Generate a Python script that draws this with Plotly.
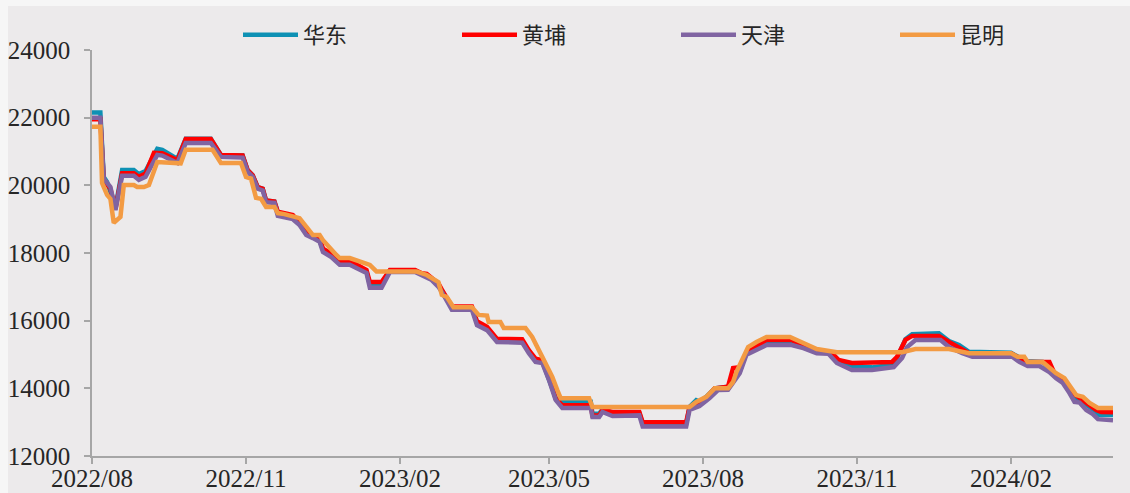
import plotly.graph_objects as go

# 华东
huadong_dates = [
    "2022-08-01", "2022-08-06", "2022-08-08", "2022-08-10", "2022-08-15", "2022-08-19", "2022-08-26",
    "2022-08-29", "2022-09-02", "2022-09-09", "2022-09-12", "2022-09-21", "2022-09-26", "2022-10-11",
    "2022-10-17", "2022-10-30", "2022-11-02", "2022-11-05", "2022-11-08", "2022-11-11", "2022-11-13",
    "2022-11-18", "2022-11-20", "2022-11-24", "2022-11-29", "2022-12-03", "2022-12-07", "2022-12-11",
    "2022-12-15", "2022-12-17", "2022-12-22", "2022-12-27", "2023-01-02", "2023-01-12", "2023-01-14",
    "2023-01-21", "2023-01-26", "2023-02-10", "2023-02-14", "2023-02-20", "2023-02-24", "2023-02-26",
    "2023-03-04", "2023-03-16", "2023-03-19", "2023-03-25", "2023-03-31", "2023-04-15", "2023-04-19",
    "2023-04-23", "2023-04-27", "2023-05-01", "2023-05-05", "2023-05-09", "2023-05-26", "2023-05-27",
    "2023-05-31", "2023-06-02", "2023-06-08", "2023-06-24", "2023-06-26", "2023-07-22", "2023-07-24",
    "2023-07-28", "2023-07-30", "2023-08-03", "2023-08-08", "2023-08-16", "2023-08-20", "2023-08-23",
    "2023-08-27", "2023-09-02", "2023-09-08", "2023-09-23", "2023-09-30", "2023-10-06", "2023-10-17",
    "2023-10-21", "2023-10-29", "2023-11-10", "2023-11-22", "2023-11-25", "2023-11-30", "2023-12-04",
    "2023-12-20", "2023-12-26", "2024-01-01", "2024-01-07", "2024-02-01", "2024-02-05", "2024-02-10",
    "2024-02-20", "2024-02-24", "2024-02-28", "2024-03-03", "2024-03-07", "2024-03-11", "2024-03-17",
    "2024-03-23", "2024-03-24", "2024-04-02",
]
huadong_vals = [
    22150, 22150, 20250, 20100, 19350, 20450, 20450,
    20330, 20420, 21080, 21050, 20780, 21380, 21380,
    20900, 20880, 20450, 20300, 19950, 19900, 19550,
    19520, 19200, 19150, 19100, 18880, 18580, 18480,
    18380, 18080, 17930, 17700, 17700, 17450, 17060,
    17060, 17480, 17480, 17380, 17230, 17030, 16900,
    16380, 16380, 15930, 15780, 15430, 15400, 15100,
    14850, 14800, 14300, 13720, 13600, 13600, 13250,
    13250, 13380, 13280, 13280, 12950, 12950, 13450,
    13650, 13600, 13750, 14000, 14050, 14300, 14500,
    15050, 15200, 15400, 15400, 15300, 15150, 15050,
    14800, 14620, 14620, 14700, 14900, 15450, 15600,
    15630, 15400, 15280, 15080, 15050, 14950, 14800,
    14780, 14600, 14400, 14220, 13900, 13700, 13520,
    13300, 13220, 13210,
]

# 黄埔
huangpu_dates = [
    "2022-08-01", "2022-08-06", "2022-08-08", "2022-08-12", "2022-08-15", "2022-08-19", "2022-08-26",
    "2022-08-29", "2022-09-02", "2022-09-07", "2022-09-12", "2022-09-21", "2022-09-26", "2022-10-11",
    "2022-10-17", "2022-10-30", "2022-11-02", "2022-11-05", "2022-11-08", "2022-11-11", "2022-11-13",
    "2022-11-18", "2022-11-20", "2022-11-24", "2022-11-29", "2022-12-03", "2022-12-07", "2022-12-11",
    "2022-12-15", "2022-12-17", "2022-12-22", "2022-12-27", "2023-01-02", "2023-01-12", "2023-01-14",
    "2023-01-21", "2023-01-26", "2023-02-10", "2023-02-14", "2023-02-17", "2023-02-20", "2023-02-24",
    "2023-02-26", "2023-03-04", "2023-03-16", "2023-03-19", "2023-03-25", "2023-03-31", "2023-04-15",
    "2023-04-19", "2023-04-23", "2023-04-27", "2023-05-01", "2023-05-05", "2023-05-09", "2023-05-26",
    "2023-05-27", "2023-05-31", "2023-06-02", "2023-06-08", "2023-06-24", "2023-06-26", "2023-07-22",
    "2023-07-24", "2023-07-30", "2023-08-03", "2023-08-08", "2023-08-16", "2023-08-19", "2023-08-23",
    "2023-08-27", "2023-09-02", "2023-09-08", "2023-09-23", "2023-09-30", "2023-10-06", "2023-10-17",
    "2023-10-21", "2023-10-29", "2023-11-10", "2023-11-22", "2023-11-25", "2023-11-30", "2023-12-04",
    "2023-12-20", "2023-12-26", "2024-01-01", "2024-01-07", "2024-02-01", "2024-02-05", "2024-02-10",
    "2024-02-24", "2024-02-27", "2024-03-03", "2024-03-09", "2024-03-12", "2024-03-17", "2024-03-23",
    "2024-03-26", "2024-04-02",
]
huangpu_vals = [
    21950, 21950, 20160, 19900, 19300, 20360, 20360,
    20250, 20350, 20960, 20950, 20750, 21370, 21370,
    20900, 20880, 20450, 20300, 19950, 19900, 19550,
    19520, 19220, 19180, 19120, 18900, 18620, 18520,
    18420, 18130, 17980, 17770, 17770, 17500, 17140,
    17140, 17500, 17500, 17400, 17380, 17250, 17100,
    16920, 16420, 16420, 15980, 15820, 15460, 15450,
    15130, 14880, 14830, 14330, 13700, 13500, 13500,
    13200, 13200, 13360, 13300, 13300, 13000, 13000,
    13450, 13550, 13720, 14000, 14050, 14600, 14620,
    15050, 15250, 15430, 15430, 15280, 15130, 15040,
    14840, 14750, 14750, 14780, 14930, 15430, 15550,
    15550, 15370, 15220, 15040, 15040, 14930, 14780,
    14780, 14450, 14250, 13860, 13750, 13570, 13360,
    13300, 13290,
]

# 天津
tianjin_dates = [
    "2022-08-01", "2022-08-06", "2022-08-08", "2022-08-12", "2022-08-15", "2022-08-19", "2022-08-26",
    "2022-08-29", "2022-09-02", "2022-09-09", "2022-09-12", "2022-09-21", "2022-09-26", "2022-10-11",
    "2022-10-17", "2022-10-30", "2022-11-02", "2022-11-05", "2022-11-08", "2022-11-11", "2022-11-13",
    "2022-11-18", "2022-11-20", "2022-11-24", "2022-11-29", "2022-12-03", "2022-12-07", "2022-12-11",
    "2022-12-15", "2022-12-17", "2022-12-22", "2022-12-27", "2023-01-02", "2023-01-12", "2023-01-14",
    "2023-01-21", "2023-01-26", "2023-02-10", "2023-02-14", "2023-02-20", "2023-02-24", "2023-02-26",
    "2023-03-04", "2023-03-16", "2023-03-19", "2023-03-25", "2023-03-31", "2023-04-15", "2023-04-19",
    "2023-04-23", "2023-04-27", "2023-05-01", "2023-05-05", "2023-05-09", "2023-05-26", "2023-05-27",
    "2023-05-31", "2023-06-02", "2023-06-08", "2023-06-24", "2023-06-26", "2023-07-22", "2023-07-24",
    "2023-07-30", "2023-08-05", "2023-08-10", "2023-08-16", "2023-08-20", "2023-08-23", "2023-08-27",
    "2023-09-02", "2023-09-08", "2023-09-23", "2023-09-30", "2023-10-08", "2023-10-15", "2023-10-20",
    "2023-10-29", "2023-11-10", "2023-11-23", "2023-11-28", "2023-12-01", "2023-12-06", "2023-12-21",
    "2023-12-26", "2024-01-01", "2024-01-03", "2024-01-09", "2024-02-02", "2024-02-06", "2024-02-11",
    "2024-02-18", "2024-02-24", "2024-02-28", "2024-03-03", "2024-03-07", "2024-03-10", "2024-03-13",
    "2024-03-17", "2024-03-21", "2024-03-24", "2024-04-02",
]
tianjin_vals = [
    22000, 22000, 20200, 19950, 19270, 20280, 20280,
    20160, 20250, 20900, 20880, 20660, 21250, 21250,
    20840, 20820, 20400, 20250, 19900, 19850, 19500,
    19480, 19100, 19050, 19000, 18830, 18530, 18440,
    18330, 18030, 17880, 17650, 17650, 17410, 16970,
    16970, 17440, 17440, 17350, 17200, 17000, 16850,
    16320, 16320, 15870, 15720, 15370, 15350, 15040,
    14780, 14750, 14250, 13660, 13420, 13420, 13150,
    13150, 13300, 13180, 13200, 12870, 12870, 13360,
    13480, 13710, 13950, 13960, 14250, 14450, 14990,
    15130, 15280, 15280, 15190, 15040, 15020, 14750,
    14540, 14540, 14630, 14900, 15220, 15430, 15430,
    15220, 15070, 15040, 14930, 14930, 14780, 14660,
    14660, 14480, 14300, 14160, 13860, 13600, 13580,
    13360, 13240, 13090, 13060,
]

# 昆明
kunming_dates = [
    "2022-08-01", "2022-08-06", "2022-08-07", "2022-08-10", "2022-08-12", "2022-08-14", "2022-08-18",
    "2022-08-20", "2022-08-26", "2022-08-28", "2022-09-01", "2022-09-04", "2022-09-09", "2022-09-23",
    "2022-09-26", "2022-10-12", "2022-10-17", "2022-10-29", "2022-11-01", "2022-11-04", "2022-11-07",
    "2022-11-10", "2022-11-13", "2022-11-18", "2022-11-20", "2022-11-24", "2022-12-03", "2022-12-07",
    "2022-12-11", "2022-12-15", "2022-12-17", "2022-12-25", "2022-12-27", "2023-01-02", "2023-01-14",
    "2023-01-17", "2023-01-18", "2023-02-11", "2023-02-17", "2023-02-24", "2023-02-26", "2023-03-01",
    "2023-03-05", "2023-03-16", "2023-03-20", "2023-03-25", "2023-03-26", "2023-04-02", "2023-04-04",
    "2023-04-17", "2023-04-21", "2023-04-27", "2023-05-03", "2023-05-06", "2023-05-08", "2023-05-25",
    "2023-05-27", "2023-07-24", "2023-07-28", "2023-08-03", "2023-08-08", "2023-08-16", "2023-08-19",
    "2023-08-21", "2023-08-25", "2023-08-28", "2023-09-02", "2023-09-08", "2023-09-22", "2023-09-25",
    "2023-09-30", "2023-10-08", "2023-10-20", "2023-11-28", "2023-12-06", "2023-12-26", "2024-01-01",
    "2024-01-07", "2024-02-01", "2024-02-05", "2024-02-09", "2024-02-11", "2024-02-20", "2024-02-24",
    "2024-02-28", "2024-03-04", "2024-03-08", "2024-03-11", "2024-03-15", "2024-03-19", "2024-03-24",
    "2024-04-02",
]
kunming_vals = [
    21730, 21730, 20070, 19720, 19600, 18890, 19070,
    20010, 20010, 19950, 19950, 20010, 20690, 20650,
    21050, 21050, 20660, 20660, 20250, 20200, 19630,
    19600, 19360, 19360, 19180, 19150, 19030, 18770,
    18530, 18530, 18380, 17940, 17850, 17850, 17650,
    17500, 17450, 17450, 17350, 17140, 16760, 16700,
    16400, 16400, 16170, 16150, 15960, 15960, 15780,
    15780, 15520, 14930, 14340, 13950, 13710, 13710,
    13450, 13450, 13600, 13750, 14000, 14000, 14190,
    14480, 14930, 15220, 15370, 15520, 15520, 15460,
    15340, 15160, 15070, 15070, 15160, 15160, 15100,
    15040, 15040, 14930, 14930, 14780, 14780, 14600,
    14450, 14300, 14040, 13800, 13750, 13570, 13420,
    13420,
]

series_names = ["华东", "黄埔", "天津", "昆明"]
series_colors = ["#0E91B4", "#FF0000", "#8064A2", "#F39B43"]

tick_dates = ["2022-08-01", "2022-11-01", "2023-02-01", "2023-05-01",
              "2023-08-01", "2023-11-01", "2024-02-01"]
tick_labels = ["2022/08", "2022/11", "2023/02", "2023/05",
               "2023/08", "2023/11", "2024/02"]
y_ticks = [12000, 14000, 16000, 18000, 20000, 22000, 24000]

all_series = [
    (huadong_dates, huadong_vals),
    (huangpu_dates, huangpu_vals),
    (tianjin_dates, tianjin_vals),
    (kunming_dates, kunming_vals),
]

fig = go.Figure()
for (xs, ys), name, color in zip(all_series, series_names, series_colors):
    fig.add_trace(go.Scatter(
        x=xs, y=ys, name=name, mode="lines",
        line=dict(color=color, width=4.5),
    ))

axis_color = "#A6A6A6"
num_font = dict(family="Liberation Serif, Times New Roman, serif", size=25, color="#262626")

fig.update_layout(
    width=1130, height=493,
    margin=dict(l=92, r=17, t=50, b=37, autoexpand=False),
    paper_bgcolor="#F6F6F6",
    plot_bgcolor="rgba(0,0,0,0)",
    showlegend=True,
    legend=dict(
        orientation="h", x=0.143, y=1.037, xanchor="left", yanchor="middle",
        font=dict(family="Noto Sans CJK SC", size=22, color="#262626"),
        bgcolor="rgba(0,0,0,0)",
        entrywidth=149, entrywidthmode="pixels",
        itemwidth=55,
    ),
    xaxis=dict(
        type="date",
        range=["2022-08-01", "2024-04-02"],
        tickvals=tick_dates, ticktext=tick_labels,
        showgrid=False, zeroline=False, automargin=False,
        showline=True, linecolor=axis_color, linewidth=1.5,
        ticks="outside", ticklen=6, tickcolor=axis_color, tickwidth=1.5,
        tickfont=num_font,
        ticklabelstandoff=-7,
    ),
    yaxis=dict(
        range=[12000, 24000],
        tickvals=y_ticks, ticktext=[str(v) for v in y_ticks],
        showgrid=False, zeroline=False, automargin=False,
        showline=True, linecolor=axis_color, linewidth=1.5,
        ticks="outside", ticklen=6, tickcolor=axis_color, tickwidth=1.5,
        tickfont=num_font,
        ticklabelstandoff=9,
    ),
    shapes=[dict(
        type="rect", xref="paper", yref="paper",
        x0=-0.0823, x1=1.0167, y0=-0.0911, y1=1.1084,
        fillcolor="#ECEAEB", line=dict(width=0), layer="below",
    )],
)

fig.write_html("out.html")
